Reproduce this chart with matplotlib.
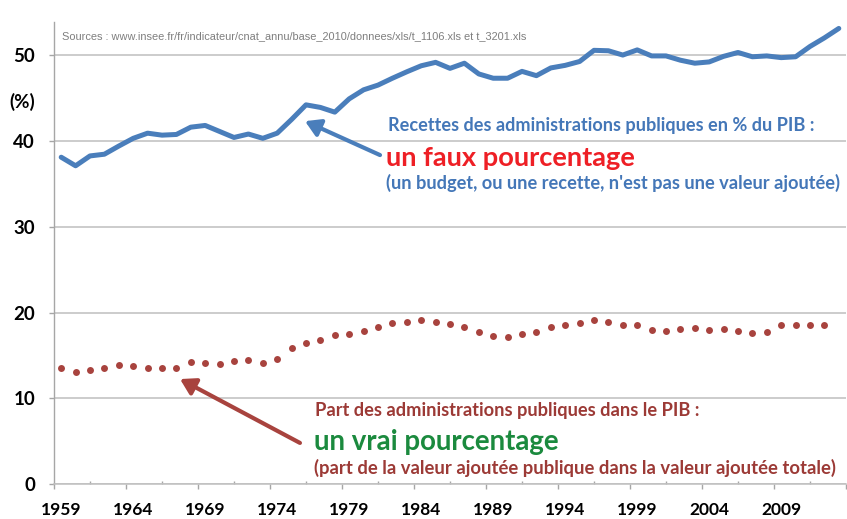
"""Recettes vs part des administrations publiques dans le PIB (France, 1959-2013)."""

import matplotlib
matplotlib.use("Agg")
import matplotlib.pyplot as plt  # noqa: E402

W, H = 847, 519
FONT = ["Lato", "DejaVu Sans"]

BLUE = "#4a7ebb"
BLUE_TXT = "#4477b8"
RED_DOT = "#a8433e"
RED_TXT = "#9c3a36"
BRIGHT_RED = "#ee1f25"
GREEN = "#1b8a3e"
GRID = "#bfbfbf"
AXIS = "#a6a6a6"

# ---- data ----
years = list(range(1959, 2014))
recettes = [38.1, 37.1, 38.25, 38.45, 39.4, 40.3, 40.9, 40.67, 40.75, 41.6,
            41.8, 41.1, 40.4, 40.8, 40.3, 40.9, 42.5, 44.2, 43.9, 43.35,
            44.9, 45.95, 46.5, 47.3, 48.05, 48.75, 49.15, 48.45, 49.05, 47.8,
            47.3, 47.3, 48.1, 47.6, 48.5, 48.8, 49.25, 50.55, 50.5, 50.0,
            50.6, 49.9, 49.9, 49.4, 49.05, 49.2, 49.85, 50.3, 49.8, 49.9,
            49.7, 49.8, 51.0, 52.0, 53.1]

part_years = list(range(1959, 2013))
part_pib = [13.55, 13.1, 13.3, 13.55, 13.9, 13.8, 13.6, 13.5, 13.5, 14.2,
            14.15, 14.05, 14.4, 14.5, 14.1, 14.65, 15.9, 16.5, 16.85, 17.35,
            17.5, 17.85, 18.3, 18.8, 18.9, 19.1, 18.9, 18.65, 18.35, 17.7,
            17.25, 17.15, 17.5, 17.7, 18.35, 18.6, 18.8, 19.1, 18.95, 18.6,
            18.6, 18.0, 17.9, 18.05, 18.25, 18.0, 18.05, 17.85, 17.6, 17.7,
            18.6, 18.55, 18.5, 18.55]

label_years = [1959, 1964, 1969, 1974, 1979, 1984, 1989, 1994, 1999, 2004, 2009]
y_ticks = [0, 10, 20, 30, 40, 50]


def px(x, y):
    """pixel position (from top-left) -> figure fraction"""
    return x / W, 1 - y / H


def fit(fig, txt, width):
    r = fig.canvas.get_renderer()
    w = txt.get_window_extent(r).width
    txt.set_fontsize(txt.get_fontsize() * width / w)


fig = plt.figure(figsize=(W / 100, H / 100), dpi=100)
fig.patch.set_facecolor("white")
ax = fig.add_axes([54 / W, 1 - 484.3 / H, 792 / W, (484.3 - 22) / H])

ax.plot(years, recettes, color=BLUE, lw=3.6, solid_joinstyle="round",
        solid_capstyle="round", zorder=3)
ax.plot(part_years, part_pib, ls="none", marker="o", ms=5.0, color=RED_DOT,
        mec="none", zorder=3)

ax.set_xlim(1958.5, 2013.5)
ax.set_ylim(0, 53.85)

# y axis
ax.set_yticks(y_ticks, [str(v) for v in y_ticks])
ax.yaxis.grid(True, color=GRID, lw=1.1, zorder=0)
ax.set_axisbelow(True)
ax.tick_params(axis="y", length=3.6, width=1, color=AXIS, pad=10,
               labelsize=13.5)

# x axis: labels centred on categories, tick marks on boundaries
ax.set_xticks(label_years, [str(y) for y in label_years])
ax.tick_params(axis="x", which="major", length=0, pad=12.5, labelsize=12.5)
ax.set_xticks([1958.5 + 5 * k for k in range(12)], minor=True)
ax.tick_params(axis="x", which="minor", direction="out", length=3.6,
               width=1, color=AXIS)
sec = ax.secondary_xaxis("bottom")
sec.set_xticks([1961 + 5 * k for k in range(11)], [""] * 11)
sec.tick_params(direction="in", length=2.4, width=1, color=AXIS)
sec.spines["bottom"].set_visible(False)

for lab in ax.get_xticklabels() + ax.get_yticklabels():
    lab.set_family(FONT)
    lab.set_fontweight("bold")

for s in ("top", "right"):
    ax.spines[s].set_visible(False)
ax.spines["left"].set_color(AXIS)
ax.spines["bottom"].set_color(GRID)
ax.spines["left"].set_linewidth(1)
ax.spines["bottom"].set_linewidth(1.1)

fig.text(*px(22.5, 102), "(%)", ha="center", va="center", family=FONT,
         fontweight="bold", fontsize=13.5)

src = fig.text(*px(62, 36), "Sources : www.insee.fr/fr/indicateur/cnat_annu/"
               "base_2010/donnees/xls/t_1106.xls et t_3201.xls",
               ha="left", va="center", family="Liberation Sans",
               fontsize=7.3, color="#7f7f7f")
fit(fig, src, 465)

# annotation: recettes
t1 = fig.text(*px(388, 131.5), "Recettes des administrations publiques en % du PIB :",
              ha="left", va="baseline", family=FONT, fontweight="bold",
              fontsize=12.5, color=BLUE_TXT)
fit(fig, t1, 427)
t2 = fig.text(*px(386, 165.5), "un faux pourcentage", ha="left", va="baseline",
              family=FONT, fontweight="bold", fontsize=20, color=BRIGHT_RED)
fit(fig, t2, 250)
t3 = fig.text(*px(386, 188.5),
              "(un budget, ou une recette, n'est pas une valeur ajoutée)",
              ha="left", va="baseline", family=FONT, fontweight="bold",
              fontsize=12.5, color=BLUE_TXT)
fit(fig, t3, 457)

# annotation: part dans le PIB
t4 = fig.text(*px(315, 416), "Part des administrations publiques dans le PIB :",
              ha="left", va="baseline", family=FONT, fontweight="bold",
              fontsize=12.5, color=RED_TXT)
fit(fig, t4, 385)
t5 = fig.text(*px(314, 450), "un vrai pourcentage", ha="left", va="baseline",
              family=FONT, fontweight="bold", fontsize=20, color=GREEN)
fit(fig, t5, 245)
t6 = fig.text(*px(314, 474),
              "(part de la valeur ajoutée publique dans la valeur ajoutée totale)",
              ha="left", va="baseline", family=FONT, fontweight="bold",
              fontsize=12.5, color=RED_TXT)
fit(fig, t6, 525)

arrow = dict(arrowstyle="-|>,head_length=0.75,head_width=0.45",
             lw=3, shrinkA=0, shrinkB=0, mutation_scale=12)
ax.annotate("", xy=(1975.93, 42.3), xytext=(1981.14, 38.35),
            arrowprops=dict(arrow, color=BLUE))
ax.annotate("", xy=(1967.25, 12.26), xytext=(1975.58, 4.82),
            arrowprops=dict(arrow, color=RED_DOT))

fig.savefig("out.png", dpi=100, facecolor="white")
